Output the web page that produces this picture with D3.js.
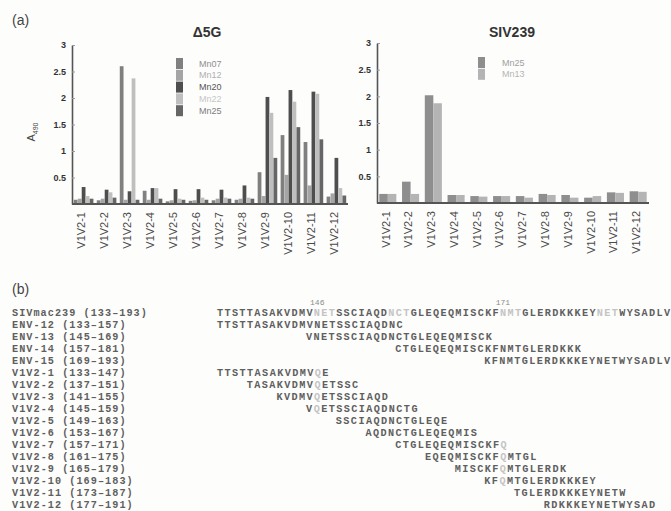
<!DOCTYPE html>
<html>
<head>
<meta charset="utf-8">
<script src="https://cdn.jsdelivr.net/npm/d3@7/dist/d3.min.js"></script>
<style>
  body { margin: 0; background: #fff; }
  svg { display: block; }
</style>
</head>
<body>
<svg id="fig" width="671" height="511"></svg>
<script>
// ---- Panel (a): peptide ELISA, A490 per V1V2 peptide ----
const categories = ["V1V2-1","V1V2-2","V1V2-3","V1V2-4","V1V2-5","V1V2-6",
                    "V1V2-7","V1V2-8","V1V2-9","V1V2-10","V1V2-11","V1V2-12"];
const yTicks = [0.5, 1, 1.5, 2, 2.5, 3];

// Δ5G-infected animals
const d5gSeries = ["Mn07", "Mn12", "Mn20", "Mn22", "Mn25"];
const d5gMn07 = [0.08, 0.07, 2.60, 0.25, 0.05, 0.06, 0.07, 0.08, 0.60, 1.30, 1.17, 0.14];
const d5gMn12 = [0.10, 0.10, 0.08, 0.08, 0.07, 0.07, 0.10, 0.10, 0.15, 0.55, 0.35, 0.20];
const d5gMn20 = [0.32, 0.27, 0.24, 0.30, 0.28, 0.28, 0.27, 0.35, 2.02, 2.15, 2.12, 0.87];
const d5gMn22 = [0.15, 0.22, 2.37, 0.30, 0.10, 0.12, 0.12, 0.12, 1.72, 1.93, 2.08, 0.30];
const d5gMn25 = [0.10, 0.12, 0.08, 0.10, 0.08, 0.08, 0.10, 0.10, 0.87, 1.45, 1.22, 0.16];
const d5gColors = ["#808080", "#a5a5a5", "#4e4e4e", "#bfbfbf", "#666666"];
const d5gTextColors = ["#8f8f8f", "#b0b0b0", "#555555", "#c6c6c6", "#7c7c7c"];

// SIV239-infected animals
const sivSeries = ["Mn25", "Mn13"];
const sivMn25 = [0.17, 0.40, 2.02, 0.15, 0.13, 0.13, 0.13, 0.17, 0.15, 0.10, 0.20, 0.22];
const sivMn13 = [0.17, 0.17, 1.87, 0.15, 0.12, 0.13, 0.10, 0.15, 0.10, 0.13, 0.19, 0.21];
const sivColors = ["#8e8e8e", "#b4b4b4"];

// ---- Panel (b): peptide map over SIVmac239 residues 133-193 ----
const refName = "SIVmac239";
const refStart = 133, refEnd = 193;
const refSeq = "TTSTTASAKVDMVNETSSCIAQDNCTGLEQEQMISCKFNMTGLERDKKKEYNETWYSADLV";
const glycanSites = [146, 156, 171, 184];      // N-X-T/S sequons in the reference
const markedSites = [146, 171];                // numbered sites, N->Q in peptides

const pepNames  = ["ENV-12","ENV-13","ENV-14","ENV-15",
                   "V1V2-1","V1V2-2","V1V2-3","V1V2-4","V1V2-5","V1V2-6",
                   "V1V2-7","V1V2-8","V1V2-9","V1V2-10","V1V2-11","V1V2-12"];
const pepStarts = [133, 145, 157, 169, 133, 137, 141, 145, 149, 153, 157, 161, 165, 169, 173, 177];
const pepEnds   = [157, 169, 181, 193, 147, 151, 155, 159, 163, 167, 171, 175, 179, 183, 187, 191];
const pepSeqs   = [
  "TTSTTASAKVDMVNETSSCIAQDNC",
  "VNETSSCIAQDNCTGLEQEQMISCK",
  "CTGLEQEQMISCKFNMTGLERDKKK",
  "KFNMTGLERDKKKEYNETWYSADLV",
  "TTSTTASAKVDMVQE",
  "TASAKVDMVQETSSC",
  "KVDMVQETSSCIAQD",
  "VQETSSCIAQDNCTG",
  "SSCIAQDNCTGLEQE",
  "AQDNCTGLEQEQMIS",
  "CTGLEQEQMISCKFQ",
  "EQEQMISCKFQMTGL",
  "MISCKFQMTGLERDK",
  "KFQMTGLERDKKKEY",
  "TGLERDKKKEYNETW",
  "RDKKKEYNETWYSAD"
];

const svg = d3.select("#fig");
const sans = "'Liberation Sans', Arial, sans-serif";
const mono = "'Liberation Mono', 'Courier New', monospace";

svg.append("rect").attr("width", 671).attr("height", 511).attr("fill", "#fdfdfc");

// panel letters
svg.append("text").attr("x", 12).attr("y", 25).text("(a)")
  .attr("font-family", sans).attr("font-size", 14).attr("fill", "#444");
svg.append("text").attr("x", 12).attr("y", 294).text("(b)")
  .attr("font-family", sans).attr("font-size", 14).attr("fill", "#444");

function barPanel(opts) {
  const { xRange, yRange, series, values, colors, title, titleX } = opts;
  const x0 = d3.scaleBand().domain(categories).range(xRange)
    .paddingInner(opts.padIn).paddingOuter(opts.padOut);
  const x1 = d3.scaleBand().domain(series).range([0, x0.bandwidth()]).padding(opts.barPad);
  const y = d3.scaleLinear().domain([0, 3]).range(yRange);
  const g = svg.append("g");

  const rows = categories.map((c, i) => ({
    cat: c,
    vals: series.map((s, k) => ({ s, k, v: values[k][i] }))
  }));
  g.selectAll("g.grp").data(rows).join("g")
    .attr("transform", d => `translate(${x0(d.cat)},0)`)
    .selectAll("rect").data(d => d.vals).join("rect")
    .attr("x", d => x1(d.s))
    .attr("width", x1.bandwidth())
    .attr("y", d => y(d.v))
    .attr("height", d => y(0) - y(d.v))
    .attr("fill", d => colors[d.k]);

  // y axis
  const ya = g.append("g").attr("transform", `translate(${xRange[0]},0)`)
    .call(d3.axisLeft(y).tickValues(yTicks).tickSizeInner(-3).tickSizeOuter(0)
      .tickPadding(6).tickFormat(d => String(d)));
  ya.select(".domain").attr("stroke", "#555").attr("stroke-width", 1.6);
  ya.selectAll(".tick line").attr("stroke", "#999");
  ya.selectAll(".tick text").attr("font-family", sans).attr("font-size", 9)
    .attr("font-weight", "bold").attr("fill", "#333");

  // x axis with rotated category labels
  const xa = g.append("g").attr("transform", `translate(0,${yRange[0]})`)
    .call(d3.axisBottom(x0).tickSize(0).tickSizeOuter(0));
  xa.select(".domain").attr("stroke", "#555").attr("stroke-width", 2)
    .attr("d", `M${xRange[0]},0H${xRange[1]}`);
  xa.selectAll(".tick text")
    .attr("transform", "rotate(-90)")
    .attr("text-anchor", "end")
    .attr("x", -8).attr("y", -2).attr("dy", "0.35em")
    .attr("font-family", sans).attr("font-size", 11).attr("fill", "#4a4a4a");

  svg.append("text").attr("x", titleX).attr("y", 37).attr("text-anchor", "middle")
    .attr("font-family", sans).attr("font-size", 14).attr("font-weight", "bold")
    .attr("fill", "#333").text(title);

  // legend
  const lg = svg.append("g").attr("transform", `translate(${opts.legend[0]},${opts.legend[1]})`);
  const items = lg.selectAll("g").data(series).join("g")
    .attr("transform", (d, i) => `translate(0,${i * 11.8})`);
  items.append("rect").attr("width", 7).attr("height", 11).attr("fill", (d, i) => colors[i]);
  items.append("text").attr("x", opts.legendTextDx).attr("y", 8.5).text(d => d)
    .attr("font-family", sans).attr("font-size", 9)
    .attr("fill", (d, i) => opts.textColors[i]);
}

barPanel({
  xRange: [72, 348], yRange: [204, 45], padIn: 0.13, padOut: 0.07, barPad: 0.05,
  series: d5gSeries, values: [d5gMn07, d5gMn12, d5gMn20, d5gMn22, d5gMn25],
  colors: d5gColors, textColors: d5gTextColors,
  title: "\u03945G", titleX: 207, legend: [176, 58], legendTextDx: 23
});

barPanel({
  xRange: [377, 649], yRange: [203, 43], padIn: 0.25, padOut: 0.1, barPad: 0,
  series: sivSeries, values: [sivMn25, sivMn13],
  colors: sivColors, textColors: ["#a0a0a0", "#b5b5b5"],
  title: "SIV239", titleX: 512, legend: [478, 57], legendTextDx: 24
});

// y-axis title A490
const yt = svg.append("text").attr("transform", "translate(35,132) rotate(-90)")
  .attr("text-anchor", "middle").attr("font-family", sans).attr("font-size", 11).attr("fill", "#444");
yt.append("tspan").text("A");
yt.append("tspan").attr("font-size", 7).attr("dy", 3).text("490");

// ---- panel (b) drawing ----
const rowY = d3.scaleLinear().domain([0, 16]).range([315.5, 507.5]);
const resX = d3.scaleLinear().domain([refStart, refEnd + 1]).range([217, 670]);
const seqFont = 10.2;
const nameCharW = 7.1;
const dark = "#5f5f5f", light = "#c4c4c4";

function rangeLabel(name, s, e) { return `${name} (${s}\u2013${e})`; }

const allNames = [refName].concat(pepNames);
const allStarts = [refStart].concat(pepStarts);
const allEnds = [refEnd].concat(pepEnds);
const allSeqs = [refSeq].concat(pepSeqs);

// peptide names with residue ranges
svg.append("g").selectAll("text").data(allNames).join("text")
  .attr("x", 12).attr("y", (d, i) => rowY(i))
  .attr("font-family", mono).attr("font-size", seqFont).attr("font-weight", "bold")
  .attr("fill", dark)
  .text((d, i) => rangeLabel(d, allStarts[i], allEnds[i]))
  .attr("textLength", (d, i) => rangeLabel(d, allStarts[i], allEnds[i]).length * nameCharW)
  .attr("lengthAdjust", "spacing");

// split a row into runs of plain / faded residues
function runs(seq, start, r) {
  const out = [];
  seq.split("").forEach((ch, k) => {
    const pos = start + k;
    let faded = false;
    if (r === 0) faded = glycanSites.some(p => pos >= p && pos <= p + 2);
    else if (allNames[r].startsWith("V1V2")) faded = markedSites.includes(pos) && ch === "Q";
    const last = out[out.length - 1];
    if (last && last.faded === faded) last.text += ch;
    else out.push({ text: ch, faded });
  });
  return out;
}

// aligned residue rows: each row spans exactly its residue range on the grid
const seqRows = svg.append("g").selectAll("text").data(allSeqs).join("text")
  .attr("x", (d, i) => resX(allStarts[i]))
  .attr("y", (d, i) => rowY(i))
  .attr("font-family", mono).attr("font-size", seqFont).attr("font-weight", "bold")
  .attr("textLength", (d, i) => resX(allEnds[i] + 1) - resX(allStarts[i]))
  .attr("lengthAdjust", "spacing");
seqRows.each(function (d, i) {
  d3.select(this).selectAll("tspan").data(runs(d, allStarts[i], i)).join("tspan")
    .attr("fill", t => t.faded ? light : dark)
    .text(t => t.text);
});

// residue numbers above the reference row
svg.append("g").selectAll("text").data(markedSites).join("text")
  .attr("x", d => resX(d + 0.5)).attr("y", 305).attr("text-anchor", "middle")
  .attr("font-family", mono).attr("font-size", 8).attr("fill", "#8a8a8a")
  .text(d => d);
</script>
</body>
</html>
